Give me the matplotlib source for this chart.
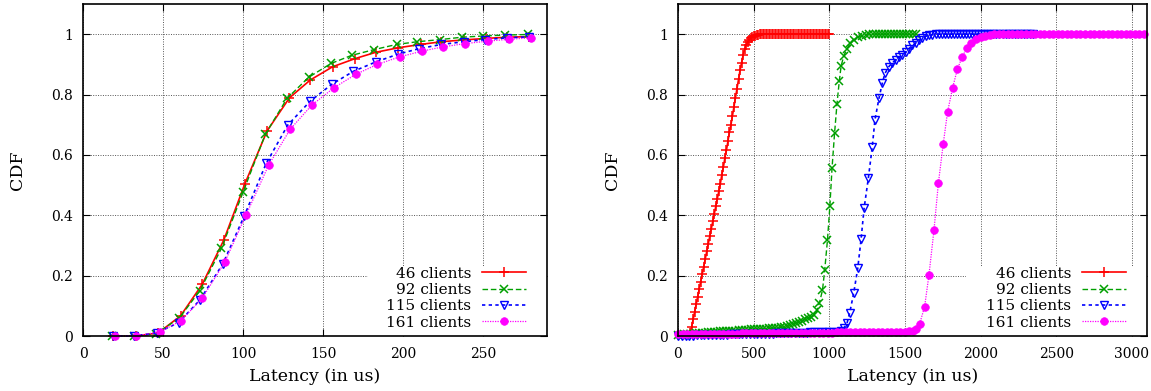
import matplotlib
matplotlib.use('Agg')
import matplotlib.pyplot as plt
from matplotlib.patches import Rectangle

plt.rcParams['font.family'] = 'DejaVu Serif'

labels = ['46 clients', '92 clients', '115 clients', '161 clients']
y_ticks = [0, 0.2, 0.4, 0.6, 0.8, 1]
y_ticklabels = ['0', '0.2', '0.4', '0.6', '0.8', '1']

# ---- left panel: latency CDF ----
left_x = {
    '46':  [19, 33, 47, 61, 74.5, 88, 101, 115, 129, 142, 156, 170, 183, 197, 211, 224, 238, 252, 265, 279],
    '92':  [18, 32, 45.5, 60, 73, 86.5, 100, 114, 127.5, 141, 155, 168, 182, 196, 209, 223, 237, 250, 264, 278],
    '115': [18.5, 32, 46, 59.7, 73, 87.4, 100.8, 114.5, 128, 142, 155.5, 169, 183, 197, 210, 224, 238, 251, 265, 279],
    '161': [20, 33.3, 48, 61.3, 74.5, 88.5, 102, 116, 129.5, 143, 157, 170.5, 184, 198, 212, 225, 239, 253, 266, 280],
}
left_y = {
    '46':  [0, 0, 0.01, 0.067, 0.171, 0.318, 0.502, 0.679, 0.789, 0.848, 0.892, 0.919, 0.94, 0.955, 0.966, 0.975, 0.981, 0.986, 0.99, 0.992],
    '92':  [0, 0, 0.008, 0.058, 0.15, 0.29, 0.476, 0.669, 0.787, 0.857, 0.903, 0.93, 0.949, 0.966, 0.975, 0.982, 0.99, 0.994, 0.997, 0.999],
    '115': [0, 0, 0.01, 0.044, 0.119, 0.239, 0.398, 0.572, 0.699, 0.778, 0.834, 0.877, 0.908, 0.934, 0.952, 0.966, 0.975, 0.982, 0.988, 0.991],
    '161': [0, 0.001, 0.013, 0.051, 0.125, 0.244, 0.402, 0.566, 0.685, 0.765, 0.823, 0.867, 0.9, 0.925, 0.944, 0.958, 0.969, 0.977, 0.983, 0.988],
}

# ---- right panel: latency CDF under heavier load ----
r46_x = [80, 90, 100, 110, 120, 130, 140, 150, 160, 170,
         180, 190, 200, 210, 220, 230, 240, 250, 260, 270,
         280, 290, 300, 310, 320, 330, 340, 350, 360, 370,
         380, 390, 400, 410, 420, 430, 440, 450, 460, 470,
         480, 490, 500, 510, 520, 530, 540, 550, 560, 570,
         580, 590, 600, 610, 620, 630, 640, 650, 660, 670,
         680, 690, 700, 710, 720, 730, 740, 750, 760, 770,
         780, 790, 800, 810, 820, 830, 840, 850, 860, 870,
         880, 890, 900, 910, 920, 930, 940, 950, 960, 970,
         980, 990, 1000]
r46_y = [0.01, 0.03, 0.055, 0.08, 0.105, 0.13, 0.155, 0.18, 0.205, 0.23,
         0.255, 0.28, 0.305, 0.33, 0.355, 0.38, 0.405, 0.43, 0.455, 0.48,
         0.505, 0.535, 0.56, 0.59, 0.615, 0.645, 0.675, 0.70, 0.73, 0.76,
         0.79, 0.82, 0.85, 0.88, 0.905, 0.93, 0.95, 0.963, 0.973, 0.98,
         0.986, 0.99, 0.993, 0.995, 0.997, 0.998, 0.999, 1, 1, 1,
         1, 1, 1, 1, 1, 1, 1, 1, 1, 1,
         1, 1, 1, 1, 1, 1, 1, 1, 1, 1,
         1, 1, 1, 1, 1, 1, 1, 1, 1, 1,
         1, 1, 1, 1, 1, 1, 1, 1, 1, 1,
         1, 1, 1]

r92_x = [0, 20, 40, 60, 80, 100, 120, 140, 160, 180,
         200, 220, 240, 260, 280, 300, 320, 340, 360, 380,
         400, 420, 440, 460, 480, 500, 520, 540, 560, 580,
         600, 620, 640, 660, 680, 700, 720, 740, 760, 780,
         800, 820, 840, 860, 880, 900, 918, 935, 955, 970,
         988, 1004, 1018, 1035, 1051, 1066, 1078, 1095, 1117, 1140,
         1165, 1190, 1215, 1240, 1265, 1290, 1310, 1330, 1350, 1370,
         1390, 1410, 1430, 1450, 1470, 1490, 1510, 1530, 1550, 1570]
r92_y = [0.003, 0.004, 0.005, 0.006, 0.007, 0.008, 0.009, 0.010, 0.011, 0.011,
         0.012, 0.013, 0.014, 0.014, 0.015, 0.016, 0.017, 0.017, 0.018, 0.018,
         0.019, 0.020, 0.020, 0.021, 0.022, 0.022, 0.023, 0.023, 0.024, 0.024,
         0.025, 0.026, 0.027, 0.028, 0.029, 0.030, 0.032, 0.035, 0.039, 0.043,
         0.047, 0.051, 0.055, 0.059, 0.064, 0.068, 0.085, 0.11, 0.152, 0.22,
         0.318, 0.432, 0.555, 0.673, 0.77, 0.844, 0.894, 0.927, 0.952, 0.97,
         0.982, 0.99, 0.995, 0.998, 0.999, 1, 1, 1, 1, 1,
         1, 1, 1, 1, 1, 1, 1, 1, 1, 1]

r115_x = [0, 25, 50, 75, 100, 125, 150, 175, 200, 225,
          250, 275, 300, 325, 350, 375, 400, 425, 450, 475,
          500, 525, 550, 575, 600, 625, 650, 675, 700, 725,
          750, 775, 800, 825, 850, 875, 900, 925, 950, 975,
          1000, 1025, 1050, 1075, 1095, 1117, 1135, 1161, 1188, 1210,
          1230, 1258, 1284, 1302, 1329, 1350, 1368, 1393, 1416, 1438,
          1460, 1482, 1505, 1527, 1549, 1571, 1593, 1615, 1637, 1659,
          1681, 1703, 1725, 1745, 1765, 1785, 1805, 1825, 1845, 1865,
          1885, 1905, 1925, 1945, 1965, 1985, 2005, 2025, 2045, 2065,
          2085, 2105, 2125, 2145, 2165, 2185, 2205, 2225, 2245, 2265,
          2285, 2305, 2325, 2345]
r115_y = [0.000, 0.000, 0.001, 0.001, 0.001, 0.002, 0.002, 0.002, 0.003, 0.003,
          0.003, 0.004, 0.004, 0.004, 0.005, 0.005, 0.005, 0.006, 0.006, 0.006,
          0.007, 0.007, 0.007, 0.008, 0.008, 0.008, 0.009, 0.009, 0.009, 0.010,
          0.010, 0.010, 0.011, 0.011, 0.011, 0.012, 0.012, 0.012, 0.013, 0.013,
          0.013, 0.014, 0.014, 0.016, 0.025, 0.042, 0.077, 0.141, 0.224, 0.32,
          0.423, 0.522, 0.627, 0.717, 0.789, 0.837, 0.87, 0.892, 0.905, 0.914,
          0.923, 0.931, 0.941, 0.952, 0.963, 0.97, 0.98, 0.987, 0.993, 0.996,
          0.998, 0.999, 1, 1, 1, 1, 1, 1, 1, 1,
          1, 1, 1, 1, 1, 1, 1, 1, 1, 1,
          1, 1, 1, 1, 1, 1, 1, 1, 1, 1,
          1, 1, 1, 1]

r161_x = [0, 30, 60, 90, 120, 150, 180, 210, 240, 270,
          300, 330, 360, 390, 420, 450, 480, 510, 540, 570,
          600, 630, 660, 690, 720, 750, 780, 810, 840, 870,
          900, 930, 960, 990, 1020, 1050, 1080, 1110, 1140, 1170,
          1200, 1230, 1260, 1290, 1320, 1350, 1380, 1410, 1440, 1470,
          1500, 1530, 1555, 1575, 1597, 1630, 1659, 1692, 1721, 1753,
          1782, 1815, 1846, 1879, 1908, 1939, 1967, 2000, 2030, 2060,
          2090, 2120, 2150, 2180, 2210, 2240, 2270, 2300, 2330, 2360,
          2390, 2420, 2450, 2480, 2510, 2540, 2570, 2600, 2630, 2660,
          2690, 2720, 2750, 2780, 2810, 2840, 2870, 2900, 2930, 2960,
          2990, 3020, 3050, 3080]
r161_y = [0.006, 0.006, 0.006, 0.007, 0.007, 0.007, 0.007, 0.007, 0.008, 0.008,
          0.008, 0.008, 0.008, 0.008, 0.009, 0.009, 0.009, 0.009, 0.009, 0.009,
          0.010, 0.010, 0.010, 0.010, 0.010, 0.010, 0.010, 0.011, 0.011, 0.011,
          0.011, 0.011, 0.011, 0.011, 0.011, 0.012, 0.012, 0.012, 0.012, 0.012,
          0.012, 0.012, 0.012, 0.013, 0.013, 0.013, 0.013, 0.013, 0.013, 0.014,
          0.014, 0.015, 0.017, 0.022, 0.04, 0.097, 0.203, 0.351, 0.506, 0.636,
          0.743, 0.822, 0.883, 0.925, 0.953, 0.971, 0.983, 0.991, 0.995, 0.998,
          0.999, 1, 1, 1, 1, 1, 1, 1, 1, 1,
          1, 1, 1, 1, 1, 1, 1, 1, 1, 1,
          1, 1, 1, 1, 1, 1, 1, 1, 1, 1,
          1, 1, 1, 1]

right_x = {'46': r46_x, '92': r92_x, '115': r115_x, '161': r161_x}
right_y = {'46': r46_y, '92': r92_y, '115': r115_y, '161': r161_y}

keys = ['46', '92', '115', '161']
styles = {
    '46':  dict(color='#ff0000', ls='-', lw=1.2, marker='+', ms=7.5, mew=1.1),
    '92':  dict(color='#00a000', ls=(0, (4, 2)), lw=1.0, marker='x', ms=6, mew=1.1),
    '115': dict(color='#0000ff', ls=(0, (2, 2)), lw=1.2, marker='v', ms=6, mew=1.0, mfc='none'),
    '161': dict(color='#ff00ff', ls=(0, (1, 1)), lw=0.9, marker='o', ms=5.5, mew=0.5),
}

fig = plt.figure(figsize=(11.51, 3.91), dpi=100)
ax1 = fig.add_axes([83 / 1151, 55 / 391, 464 / 1151, 332 / 391])
ax2 = fig.add_axes([678 / 1151, 55 / 391, 469 / 1151, 332 / 391])


def draw(ax, xs, ys, xlim, xticks):
    ax.set_axisbelow(True)
    ax.grid(True, color='#555555', ls=(0, (1, 1.5)), lw=0.7)
    # blank area behind the key, like gnuplot does
    ax.add_patch(Rectangle((0.614, 0), 0.386, 0.208, transform=ax.transAxes,
                           facecolor='white', edgecolor='none', zorder=1))
    for k, lab in zip(keys, labels):
        ax.plot(xs[k], ys[k], label=lab, zorder=2, clip_on=False, **styles[k])
    ax.set_xlim(*xlim)
    ax.set_ylim(0, 1.1)
    ax.set_xticks(xticks)
    ax.set_yticks(y_ticks)
    ax.set_yticklabels(y_ticklabels)
    ax.tick_params(direction='in', length=5, width=0.8, top=True, right=True,
                   labelsize=10, pad=7)
    ax.tick_params(axis='x', pad=8)
    for s in ax.spines.values():
        s.set_linewidth(1.2)
    ax.set_xlabel('Latency (in us)', fontsize=12.5, labelpad=5)
    ax.set_ylabel('CDF', fontsize=12.5, labelpad=18)
    leg = ax.legend(loc='lower right', bbox_to_anchor=(0.962, 0.01),
                    frameon=False, markerfirst=False, fontsize=11,
                    labelspacing=0.15, handlelength=2.9, handletextpad=0.7,
                    borderpad=0.2, borderaxespad=0)
    return leg


draw(ax1, left_x, left_y, (0, 290), [0, 50, 100, 150, 200, 250])
draw(ax2, right_x, right_y, (0, 3100), [0, 500, 1000, 1500, 2000, 2500, 3000])

fig.savefig('out.png', dpi=100)
